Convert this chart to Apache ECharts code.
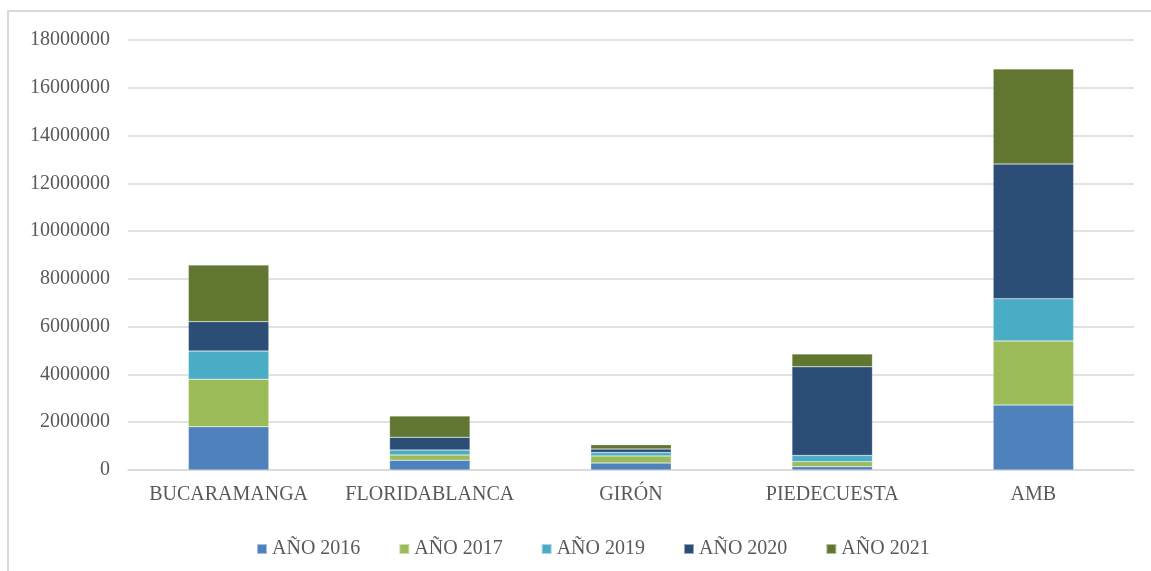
<!DOCTYPE html>
<html>
<head>
<meta charset="utf-8">
<script src="https://cdn.jsdelivr.net/npm/echarts@6/dist/echarts.min.js"></script>
<style>
  html, body { margin: 0; padding: 0; background: #fff; }
  #frame {
    position: absolute; left: 7px; top: 10px; width: 1160px; height: 580px;
    border-top: 2px solid #d9d9d9; border-left: 2px solid #d9d9d9;
  }
  #chart { position: absolute; left: 0; top: 0; width: 1151px; height: 571px; }
</style>
</head>
<body>
<div id="frame"></div>
<div id="chart"></div>
<script>
  const municipios = ['BUCARAMANGA', 'FLORIDABLANCA', 'GIRÓN', 'PIEDECUESTA', 'AMB'];
  const anio2016 = [1810000, 410000, 290000, 140000, 2720000];
  const anio2017 = [1990000, 220000, 300000, 210000, 2680000];
  const anio2019 = [1180000, 210000, 140000, 260000, 1770000];
  const anio2020 = [1230000, 530000, 150000, 3710000, 5640000];
  const anio2021 = [2370000, 890000, 180000, 540000, 3980000];
  const yTicks = {min: 0, max: 18000000, interval: 2000000};

  const serieDef = [
    {name: 'AÑO 2016', data: anio2016, color: '#4f81bd'},
    {name: 'AÑO 2017', data: anio2017, color: '#9bbb59'},
    {name: 'AÑO 2019', data: anio2019, color: '#4bacc6'},
    {name: 'AÑO 2020', data: anio2020, color: '#2c4d75'},
    {name: 'AÑO 2021', data: anio2021, color: '#617631'}
  ];

  const txt = '#595959';
  const font = '"Liberation Serif", "Times New Roman", serif';

  const chart = echarts.init(document.getElementById('chart'));
  chart.setOption({
    animation: false,
    textStyle: {fontFamily: font},
    grid: {left: 128, right: 17, top: 40, bottom: 101},
    legend: {
      left: 251, top: 534,
      itemWidth: 10, itemHeight: 10, itemGap: 38,
      icon: 'rect',
      textStyle: {color: txt, fontSize: 20, fontFamily: font},
      data: serieDef.map(s => s.name)
    },
    xAxis: {
      type: 'category',
      data: municipios,
      axisLine: {lineStyle: {color: '#d9d9d9', width: 1.5}},
      axisTick: {show: false},
      axisLabel: {color: txt, fontSize: 20, fontFamily: font, margin: 15, interval: 0}
    },
    yAxis: {
      type: 'value',
      min: yTicks.min, max: yTicks.max, interval: yTicks.interval,
      axisLine: {show: false},
      axisTick: {show: false},
      splitLine: {lineStyle: {color: '#d9d9d9', width: 1.5}},
      axisLabel: {color: txt, fontSize: 20, fontFamily: font, margin: 18, formatter: v => String(v)}
    },
    series: serieDef.map(s => ({
      name: s.name,
      type: 'bar',
      stack: 'total',
      barWidth: '40%',
      data: s.data,
      itemStyle: {color: s.color, borderColor: 'rgba(255,255,255,0.5)', borderWidth: 0.5}
    }))
  });
</script>
</body>
</html>
